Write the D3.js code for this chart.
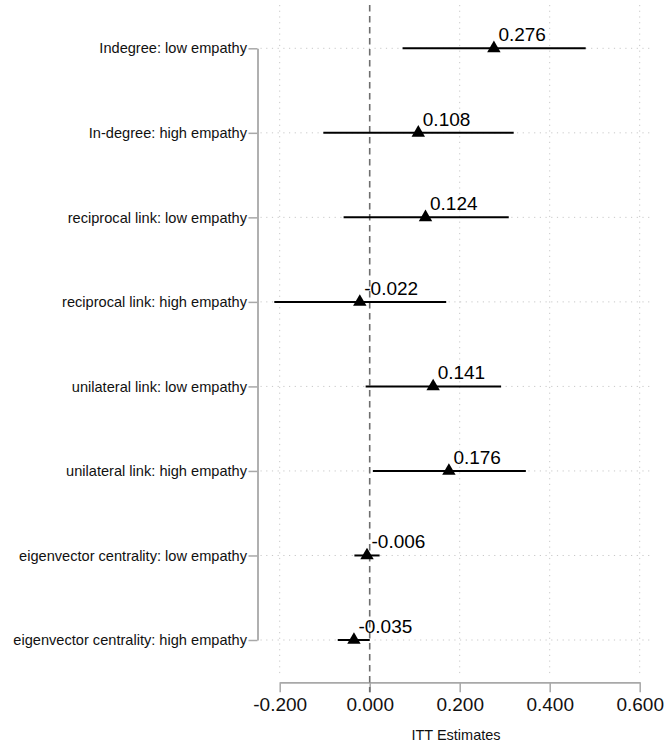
<!DOCTYPE html>
<html>
<head>
<meta charset="utf-8">
<script src="https://cdn.jsdelivr.net/npm/d3@7"></script>
<style>
  html, body { margin: 0; padding: 0; background: #fff; }
  svg { display: block; font-family: "Liberation Sans", Arial, Helvetica, sans-serif; }
</style>
</head>
<body>
<svg id="chart" width="665" height="745"></svg>
<script>
// Outcome labels, top to bottom
const categories = [
  "Indegree: low empathy",
  "In-degree: high empathy",
  "reciprocal link: low empathy",
  "reciprocal link: high empathy",
  "unilateral link: low empathy",
  "unilateral link: high empathy",
  "eigenvector centrality: low empathy",
  "eigenvector centrality: high empathy"
];

// Point estimates (ITT)
const estimates = [0.276, 0.108, 0.124, -0.022, 0.141, 0.176, -0.006, -0.035];

// Confidence interval bounds
const ciLow  = [0.073, -0.103, -0.058, -0.212, -0.009, 0.007, -0.034, -0.071];
const ciHigh = [0.480, 0.320, 0.309, 0.170, 0.292, 0.347, 0.022, 0.000];

// X axis tick values
const xTicks = [-0.2, 0.0, 0.2, 0.4, 0.6];

const rows = categories.map((c, i) => ({
  cat: c, est: estimates[i], lo: ciLow[i], hi: ciHigh[i]
}));

// Number format with a plain hyphen as minus sign
const fmt = d3.formatLocale({
  decimal: ".", thousands: ",", grouping: [3], currency: ["", ""], minus: "-"
}).format(".3f");

const svg = d3.select("#chart");

const plotLeft = 257.5, plotRight = 652, plotTop = 5, axisY = 682.3;
const fontStack = "\"Liberation Sans\", Arial, Helvetica, sans-serif";

const x = d3.scaleLinear().domain([-0.2, 0.6]).range([279.7, 639.7]);
const y = d3.scalePoint().domain(categories).range([48.3, 640]);

// Dotted grid
const grid = svg.append("g").attr("stroke", "#c8c8c8").attr("stroke-width", 1)
  .attr("stroke-dasharray", "1.2,4.5").attr("fill", "none");
grid.selectAll("line.v").data(xTicks.filter(d => d !== 0)).join("line")
  .attr("class", "v")
  .attr("x1", d => x(d)).attr("x2", d => x(d))
  .attr("y1", plotTop).attr("y2", axisY - 7);
grid.selectAll("line.h").data(categories).join("line")
  .attr("class", "h")
  .attr("x1", plotLeft + 3).attr("x2", plotRight)
  .attr("y1", d => y(d)).attr("y2", d => y(d));

// Y axis
const yAxis = svg.append("g")
  .attr("transform", `translate(${plotLeft},0)`)
  .call(d3.axisLeft(y).tickSize(9).tickSizeOuter(0).tickPadding(1.5));
yAxis.select(".domain").attr("stroke", "#a8a8a8").attr("stroke-width", 1.8);
yAxis.selectAll(".tick line").attr("stroke", "#a8a8a8").attr("stroke-width", 1.5);
yAxis.selectAll(".tick text").attr("fill", "#111").attr("font-size", "14.6px")
  .attr("font-family", fontStack);

// X axis
const xAxis = svg.append("g")
  .attr("transform", `translate(0,${axisY})`)
  .call(d3.axisBottom(x).tickValues(xTicks).tickFormat(fmt)
    .tickSize(10).tickSizeOuter(0).tickPadding(5.5));
xAxis.select(".domain").attr("stroke", "#a8a8a8").attr("stroke-width", 1.8);
xAxis.selectAll(".tick line").attr("stroke", "#a8a8a8").attr("stroke-width", 1.5);
xAxis.selectAll(".tick text").attr("fill", "#111").attr("font-size", "19px")
  .attr("font-family", fontStack);

// Axis title
svg.append("text")
  .attr("x", 456).attr("y", 740)
  .attr("text-anchor", "middle")
  .attr("font-size", "14.5px").attr("fill", "#111")
  .text("ITT Estimates");

// Reference line at zero
svg.append("line")
  .attr("x1", x(0)).attr("x2", x(0))
  .attr("y1", plotTop).attr("y2", axisY + 10)
  .attr("stroke", "#6e6e6e").attr("stroke-width", 1.6)
  .attr("stroke-dasharray", "6.5,4.5");

// Confidence intervals
svg.append("g").selectAll("line").data(rows).join("line")
  .attr("x1", d => x(d.lo)).attr("x2", d => x(d.hi))
  .attr("y1", d => y(d.cat)).attr("y2", d => y(d.cat))
  .attr("stroke", "#000").attr("stroke-width", 2);

// Point estimates
const tri = d3.symbol().type(d3.symbolTriangle).size(78);
svg.append("g").selectAll("path").data(rows).join("path")
  .attr("d", tri)
  .attr("transform", d => `translate(${x(d.est)},${y(d.cat)})`)
  .attr("fill", "#000");

// Value labels
svg.append("g").selectAll("text").data(rows).join("text")
  .attr("x", d => x(d.est) + 4.5)
  .attr("y", d => y(d.cat) - 7.3)
  .attr("font-size", "19px").attr("fill", "#000")
  .text(d => fmt(d.est));
</script>
</body>
</html>
